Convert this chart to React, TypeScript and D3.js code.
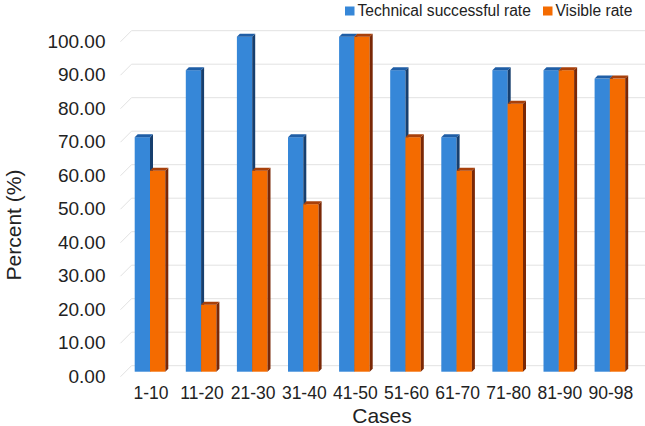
import React from "react";
import * as d3 from "d3";

const categories = ["1-10", "11-20", "21-30", "31-40", "41-50", "51-60", "61-70", "71-80", "81-90", "90-98"];
const technicalRate = [70, 90, 100, 70, 100, 90, 70, 90, 90, 87.5];
const visibleRate = [60, 20, 60, 50, 100, 70, 60, 80, 90, 87.5];
const yTicks = [0, 10, 20, 30, 40, 50, 60, 70, 80, 90, 100];
const seriesNames = ["Technical successful rate", "Visible rate"];

const W = 645;
const H = 426;
const FONT = "'Liberation Sans', Arial, Helvetica, sans-serif";

const colors = [
  { front: "#3687D8", top: "#1F5EA6", side: "#173F6E" },
  { front: "#F46B00", top: "#A8400A", side: "#7A2806" },
];

export default function App() {
  const x = d3.scaleBand<string>().domain(categories).range([124.45, 635.45]).padding(0);
  const y = d3.scaleLinear().domain([0, 100]).range([371.7, 36.7]);
  const barW = 15.3;
  const dx = 3;
  const dy = 3;
  const y0 = y(0);

  const series = [technicalRate, visibleRate];

  const bar = (x0: number, v: number, c: typeof colors[0], key: string) => {
    const x1 = x0 + barW;
    const yt = y(v);
    return (
      <g key={key}>
        <rect x={x0} y={yt} width={barW} height={y0 - yt} fill={c.front} />
        <polygon
          points={`${x1},${yt} ${x1 + dx},${yt - dy} ${x1 + dx},${y0 - dy} ${x1},${y0}`}
          fill={c.side}
        />
        <polygon
          points={`${x0},${yt} ${x0 + dx},${yt - dy} ${x1 + dx},${yt - dy} ${x1},${yt}`}
          fill={c.top}
        />
      </g>
    );
  };

  return (
    <svg
      width={W}
      height={H}
      style={{ position: "absolute", left: 0, top: 0, background: "#fff" }}
      fontFamily={FONT}
    >
      {/* gridlines */}
      {yTicks.map((t) => {
        const yy = y(t);
        return (
          <g key={"g" + t}>
            <line x1={120.5} y1={yy + 5} x2={131.5} y2={yy - 6} stroke="#e2e2e2" strokeWidth={1} />
            <line x1={131.5} y1={yy - 6} x2={645} y2={yy - 6} stroke="#e2e2e2" strokeWidth={1} />
          </g>
        );
      })}
      {/* y tick labels */}
      {yTicks.map((t) => (
        <text key={"t" + t} x={105.5} y={y(t) + 11} textAnchor="end" fontSize={19} fill="#222">
          {d3.format(".2f")(t)}
        </text>
      ))}
      {/* bars */}
      {categories.map((c, i) => {
        const center = (x(c) as number) + x.bandwidth() / 2;
        return (
          <g key={c}>
            {bar(center - barW, series[0][i], colors[0], "a")}
            {bar(center, series[1][i], colors[1], "b")}
          </g>
        );
      })}
      {/* x labels */}
      {categories.map((c) => (
        <text
          key={"x" + c}
          x={(x(c) as number) + x.bandwidth() / 2 + 1}
          y={399}
          textAnchor="middle"
          fontSize={17.5}
          fill="#222"
        >
          {c}
        </text>
      ))}
      <text x={382} y={423} textAnchor="middle" fontSize={21} fill="#222">
        Cases
      </text>
      <text
        transform={`translate(21,225) rotate(-90)`}
        textAnchor="middle"
        fontSize={21}
        fill="#222"
      >
        Percent (%)
      </text>
      {/* legend */}
      <rect x={345} y={6.5} width={9.5} height={9} fill={colors[0].front} />
      <text x={357.5} y={15.5} fontSize={15.6} fill="#222">
        {seriesNames[0]}
      </text>
      <rect x={543} y={6.5} width={9.5} height={9} fill={colors[1].front} />
      <text x={555.5} y={15.5} fontSize={15.6} fill="#222">
        {seriesNames[1]}
      </text>
    </svg>
  );
}
